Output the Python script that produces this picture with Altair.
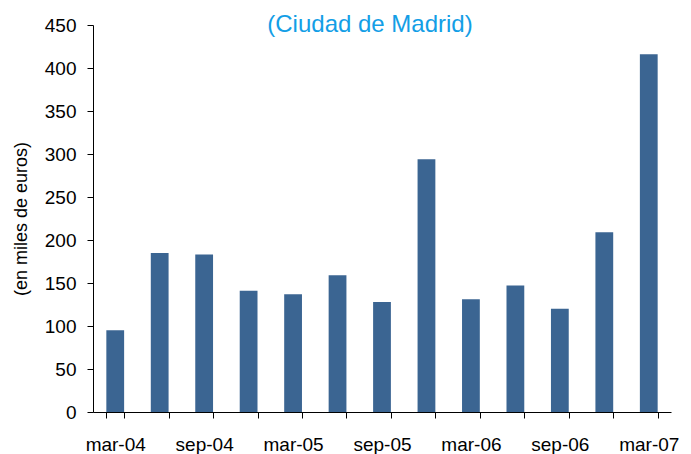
import altair as alt
import pandas as pd

periodos = ["mar-04", "jun-04", "sep-04", "dic-04", "mar-05", "jun-05", "sep-05",
            "dic-05", "mar-06", "jun-06", "sep-06", "dic-06", "mar-07"]
valores = [95, 185, 183, 141, 137, 159, 128, 294, 131, 147, 120, 209, 416]
etiquetas_visibles = ["mar-04", "sep-04", "mar-05", "sep-05", "mar-06", "sep-06", "mar-07"]
y_ticks = [0, 50, 100, 150, 200, 250, 300, 350, 400, 450]

df = pd.DataFrame({"periodo": periodos, "valor": valores})

FONT = "Liberation Sans"
label_expr = "indexof(" + str(etiquetas_visibles).replace('"', "'") + ", datum.label) >= 0 ? datum.label : ''"

chart = alt.Chart(df).mark_bar(color="#3b6592").encode(
    x=alt.X("periodo:N", sort=periodos,
            scale=alt.Scale(paddingInner=0.6, paddingOuter=0.3),
            axis=alt.Axis(title=None, labelAngle=0, labelExpr=label_expr,
                          tickBand="extent", tickSize=6, tickColor="black",
                          domainColor="black", labelFont=FONT, labelFontSize=19,
                          labelColor="black", labelPadding=17, labelOverlap=False,
                          labelBound=False)),
    y=alt.Y("valor:Q", scale=alt.Scale(domain=[0, 450], nice=False),
            axis=alt.Axis(title="(en miles de euros)", values=y_ticks, grid=False,
                          tickSize=6, tickColor="black", domainColor="black",
                          labelFont=FONT, labelFontSize=19, labelColor="black",
                          labelPadding=11, titleFont=FONT, titleFontSize=18,
                          titleFontWeight="normal", titleColor="black",
                          titlePadding=14)),
).properties(
    width=578,
    height=387,
    title=alt.TitleParams("(Ciudad de Madrid)", font=FONT, fontSize=24,
                          fontWeight="normal", color="#139ee6", anchor="middle",
                          dx=-12, offset=-21),
    autosize=alt.AutoSizeParams(type="none"),
    padding={"left": 85, "top": 17, "right": 12, "bottom": 42},
).configure_view(stroke=None)

chart.save("out.html", embed_options={"renderer": "svg", "actions": False})
